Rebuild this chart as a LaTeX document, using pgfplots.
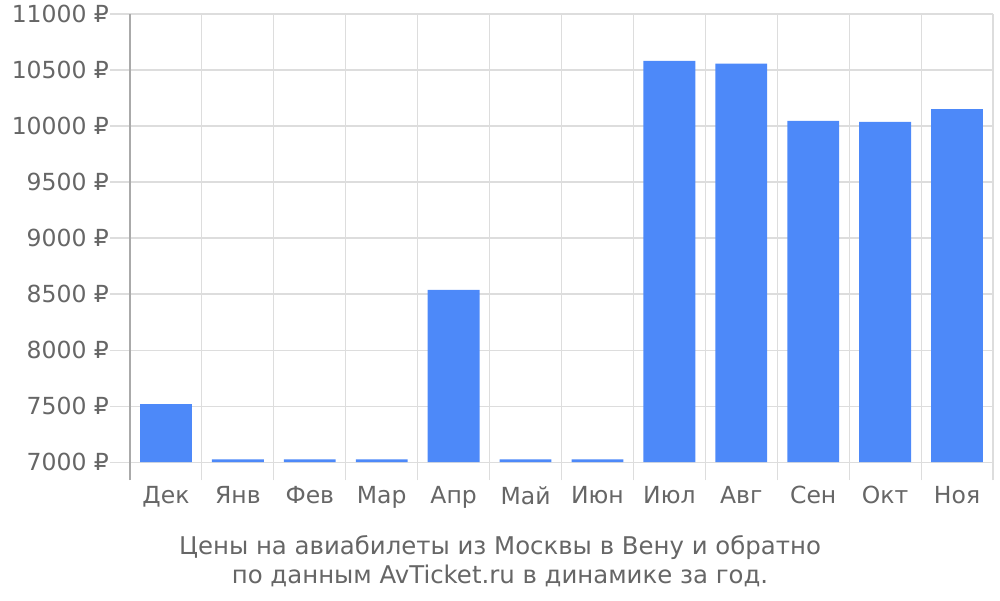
\documentclass[border=0pt]{standalone}
\usepackage{pgfplots}
\pgfplotsset{compat=1.18}
\usepackage{pgfplotstable}
\usepackage{fontspec}
\setmainfont{DejaVu Sans}
\usetikzlibrary{calc}
\definecolor{barblue}{HTML}{4D89F9}
\definecolor{gridgray}{HTML}{DDDDDD}
\definecolor{axisgray}{HTML}{AAAAAA}
\definecolor{txtgray}{HTML}{666666}
\pgfplotstableread{
x v
0 7518
1 7025
2 7025
3 7025
4 8537
5 7025
6 7025
7 10582
8 10556
9 10046
10 10036
11 10150
}\prices
\begin{document}
\begin{tikzpicture}
\begin{axis}[
  name=ax,
  scale only axis,
  width=863pt, height=466pt,
  xmin=-0.5, xmax=11.5,
  ymin=-160, ymax=4000,
  axis y line*=left,
  axis x line*=bottom,
  x axis line style={draw=none},
  y axis line style={draw=axisgray, line width=1.2pt},
  xtick={0,...,11},
  xticklabels={Дек,Янв,Фев,Мар,Апр,Май,Июн,Июл,Авг,Сен,Окт,Ноя},
  minor xtick={-0.5,0.5,...,11.5},
  xminorgrids=true,
  minor grid style={draw=gridgray, line width=1.1pt},
  major grid style={draw=gridgray, line width=1.1pt},
  xtick style={draw=none},
  ytick={0,500,...,4000},
  yticklabels={7000 ₽,7500 ₽,8000 ₽,8500 ₽,9000 ₽,9500 ₽,10000 ₽,10500 ₽,11000 ₽},
  ymajorgrids=true,
  ytick style={draw=gridgray, line width=1.1pt},
  ytick align=outside,
  major tick length=20pt,
  minor tick length=0pt,
  tick label style={font=\fontsize{23.5}{28}\selectfont, text=txtgray},
  xticklabel style={yshift=-3pt},
  yticklabel style={xshift=2.5pt},
  /pgf/number format/assume math mode=true,
  clip=false,
]
\addplot[ybar, bar width=0.72, fill=barblue, draw=none] table[x=x, y expr=\thisrow{v}-7000] {\prices};
\end{axis}
\node[anchor=north, align=center, text=txtgray, font=\fontsize{24.4}{28.5}\selectfont]
  at ($(ax.south west)+(370pt,-52.5pt)$)
  {Цены на авиабилеты из Москвы в Вену и обратно\\по данным AvTicket.ru в динамике за год.};
\path[use as bounding box] ($(ax.south west)+(-130pt,-120pt)$) rectangle ($(ax.north east)+(7pt,14pt)$);
\end{tikzpicture}
\end{document}
